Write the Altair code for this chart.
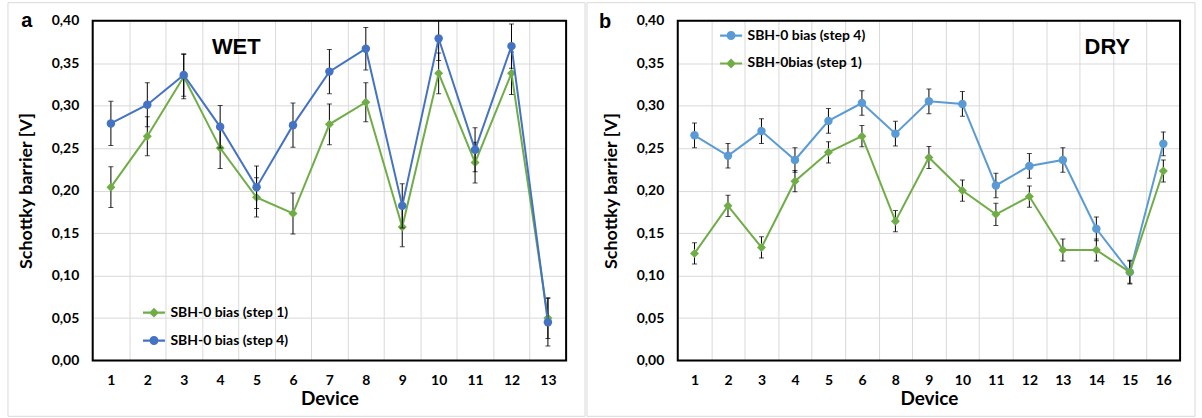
import altair as alt
import pandas as pd

# ---------------- data ----------------
wet_devices = ["1", "2", "3", "4", "5", "6", "7", "8", "9", "10", "11", "12", "13"]
wet_step1 = [0.204, 0.264, 0.334, 0.250, 0.192, 0.173, 0.278, 0.304, 0.157, 0.338, 0.233, 0.338, 0.050]
wet_step1_err = [0.024, 0.023, 0.026, 0.024, 0.023, 0.024, 0.024, 0.023, 0.023, 0.024, 0.024, 0.025, 0.024]
wet_step4 = [0.279, 0.301, 0.336, 0.275, 0.204, 0.277, 0.340, 0.367, 0.182, 0.379, 0.248, 0.370, 0.045]
wet_step4_err = [0.026, 0.026, 0.025, 0.025, 0.025, 0.026, 0.026, 0.025, 0.026, 0.026, 0.026, 0.026, 0.028]

dry_devices = ["1", "2", "3", "4", "5", "6", "8", "9", "10", "11", "12", "13", "14", "15", "16"]
dry_step4 = [0.265, 0.241, 0.270, 0.236, 0.282, 0.303, 0.267, 0.305, 0.302, 0.206, 0.229, 0.236, 0.155, 0.104, 0.255]
dry_step4_err = [0.0145, 0.0145, 0.0145, 0.0145, 0.0145, 0.0145, 0.0145, 0.0145, 0.0145, 0.0145, 0.0145, 0.0145, 0.0140, 0.0140, 0.0140]
dry_step1 = [0.126, 0.182, 0.133, 0.211, 0.245, 0.264, 0.164, 0.239, 0.200, 0.172, 0.193, 0.130, 0.130, 0.104, 0.223]
dry_step1_err = [0.0125, 0.0125, 0.0125, 0.0125, 0.0125, 0.0125, 0.0125, 0.0130, 0.0125, 0.0130, 0.0125, 0.0130, 0.0130, 0.0130, 0.0130]

y_ticks = [0.0, 0.05, 0.10, 0.15, 0.20, 0.25, 0.30, 0.35, 0.40]

GREEN = "#70AD47"
BLUE_WET = "#4472C4"
BLUE_DRY = "#5B9BD5"
GRID = "#D9D9D9"
FONT = "Lato"

# legend glyphs: a short line with the marker in the middle (units of marker radius)
LEGEND_PATHS = {
    "circle": "M-2.45,-0.24H-0.9V0.24H-2.45Z M0.9,-0.24H2.45V0.24H0.9Z M1,0A1,1,0,1,1,-1,0A1,1,0,1,1,1,0Z",
    "diamond": "M-2.45,-0.24H-0.9V0.24H-2.45Z M0.9,-0.24H2.45V0.24H0.9Z M0,-1.1L1.1,0L0,1.1L-1.1,0Z",
}


def panel(devices, series, width, height, letter, letter_xy, tag, tag_xy, legend_xy, frame):
    rows = []
    for name, _, _, vals, errs in series:
        for d, v, e in zip(devices, vals, errs):
            rows.append({"device": d, "series": name, "value": v, "lo": v - e, "hi": v + e})
    df = pd.DataFrame(rows)
    names = [s[0] for s in series]
    colors = [s[1] for s in series]
    paths = [LEGEND_PATHS[s[2]] for s in series]

    x = alt.X(
        "device:O",
        sort=devices,
        scale=alt.Scale(type="band", paddingInner=0, paddingOuter=0),
        axis=alt.Axis(
            title="Device",
            tickBand="extent",
            labelAngle=0,
            ticks=False,
            tickSize=0,
            domain=False,
            grid=True,
            gridColor=GRID,
            gridWidth=1,
            labelFont=FONT,
            labelFontSize=14,
            labelFontWeight="bold",
            labelColor="black",
            labelPadding=13,
            titleFont=FONT,
            titleFontSize=19,
            titleFontWeight="bold",
            titleColor="black",
            titlePadding=2,
        ),
    )

    def y(field):
        return alt.Y(
            f"{field}:Q",
            scale=alt.Scale(domain=[0, 0.4], nice=False, zero=False),
            axis=alt.Axis(
                title="Schottky barrier [V]",
                values=y_ticks,
                labelExpr="replace(format(datum.value, '.2f'), '.', ',')",
                ticks=False,
                tickSize=0,
                domain=False,
                grid=True,
                gridColor=GRID,
                gridWidth=1,
                labelFont=FONT,
                labelFontSize=14,
                labelFontWeight="bold",
                labelColor="black",
                labelPadding=14,
                titleFont=FONT,
                titleFontSize=18,
                titleFontWeight="bold",
                titleColor="black",
                titlePadding=16,
            ),
        )

    one = pd.DataFrame({"k": [0]})
    fx0, fx1, fy0, fy1 = frame
    layers = [
        alt.Chart(one).mark_rect(filled=False, stroke=GRID, strokeWidth=1).encode(
            x=alt.value(fx0), x2=alt.value(fx1), y=alt.value(fy0), y2=alt.value(fy1)
        )
    ]
    base = alt.Chart(df)
    for name, col, shape, _, _ in series:
        b = base.transform_filter(alt.datum.series == name)
        layers.append(
            b.mark_rule(color="black", strokeWidth=1, clip=True).encode(x=x, y=y("lo"), y2="hi:Q")
        )
        layers.append(
            b.mark_tick(color="black", thickness=1, size=5, clip=True).encode(x=x, y=y("lo"))
        )
        layers.append(
            b.mark_tick(color="black", thickness=1, size=5, clip=True).encode(x=x, y=y("hi"))
        )
        layers.append(b.mark_line(color=col, strokeWidth=2).encode(x=x, y=y("value")))
        layers.append(
            b.mark_point(shape=shape, filled=True, color=col, opacity=1,
                         size=72 if shape == "circle" else 81).encode(x=x, y=y("value"))
        )

    leg = dict(
        title=None,
        orient="none",
        legendX=legend_xy[0],
        legendY=legend_xy[1],
        padding=0,
        labelFont=FONT,
        labelFontSize=14,
        labelFontWeight="bold",
        labelColor="black",
        labelOffset=9.5,
        rowPadding=14,
        symbolSize=81,
        symbolOpacity=1,
        symbolStrokeWidth=0,
    )
    layers.append(
        base.mark_point(filled=True, opacity=0).encode(
            x=x,
            y=y("value"),
            color=alt.Color("series:N", scale=alt.Scale(domain=names, range=colors),
                            legend=alt.Legend(**leg)),
            shape=alt.Shape("series:N", scale=alt.Scale(domain=names, range=paths),
                            legend=alt.Legend(**leg)),
        )
    )

    # plot frame on top of the grid
    layers.append(
        alt.Chart(one).mark_rect(filled=False, stroke="black", strokeWidth=2).encode(
            x=alt.value(0), x2=alt.value(width), y=alt.value(0), y2=alt.value(height)
        )
    )
    layers.append(
        alt.Chart(one).mark_text(text=letter, font="Liberation Sans", fontSize=20,
                                 fontWeight="bold", color="black", align="center",
                                 baseline="alphabetic").encode(
            x=alt.value(letter_xy[0]), y=alt.value(letter_xy[1])
        )
    )
    layers.append(
        alt.Chart(one).mark_text(text=tag, font="Liberation Sans", fontSize=22,
                                 fontWeight="bold", color="black", align="center",
                                 baseline="middle").encode(
            x=alt.value(tag_xy[0]), y=alt.value(tag_xy[1])
        )
    )
    return alt.layer(*layers).properties(width=width, height=height)


wet = panel(
    wet_devices,
    [
        ("SBH-0 bias (step 1)", GREEN, "diamond", wet_step1, wet_step1_err),
        ("SBH-0 bias (step 4)", BLUE_WET, "circle", wet_step4, wet_step4_err),
    ],
    width=475, height=341,
    letter="a", letter_xy=(-66, 6),
    tag="WET", tag_xy=(144, 26),
    legend_xy=(54.5, 286),
    frame=(-85, 494, -18, 397),
)

dry = panel(
    dry_devices,
    [
        ("SBH-0 bias (step 4)", BLUE_DRY, "circle", dry_step4, dry_step4_err),
        ("SBH-0bias (step 1)", GREEN, "diamond", dry_step1, dry_step1_err),
    ],
    width=504, height=341,
    letter="b", letter_xy=(-73, 7),
    tag="DRY", tag_xy=(431, 26),
    legend_xy=(46.5, 8),
    frame=(-91, 519, -18, 397),
)

chart = (
    alt.hconcat(wet, dry, spacing=0)
    .resolve_scale(color="independent", shape="independent")
    .properties(padding={"left": 7, "top": 1, "right": 6, "bottom": 2}, background="white")
    .configure_view(stroke=None)
)

chart.save("out.html", embed_options={"renderer": "svg", "actions": False})
